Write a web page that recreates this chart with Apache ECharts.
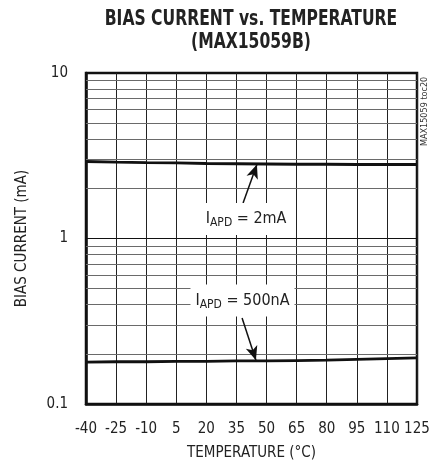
<!DOCTYPE html>
<html>
<head>
<meta charset="utf-8">
<script src="https://cdn.jsdelivr.net/npm/echarts@6/dist/echarts.min.js"></script>
<style>
html,body{margin:0;padding:0;background:#fff;}
#chart{width:440px;height:463px;}
</style>
</head>
<body>
<div id="chart"></div>
<script>
var temperatures = [-40, -25, -10, 5, 20, 35, 50, 65, 80, 95, 110, 125];
var bias2mA = [2.92, 2.89, 2.87, 2.86, 2.84, 2.83, 2.82, 2.81, 2.81, 2.80, 2.80, 2.80];
var bias500nA = [0.179, 0.180, 0.180, 0.181, 0.181, 0.182, 0.182, 0.183, 0.184, 0.186, 0.188, 0.190];
var yTickLabels = ['0.1', '1', '10'];
var minorGridValues = [0.2, 0.3, 0.4, 0.5, 0.6, 0.7, 0.8, 0.9, 2, 3, 4, 5, 6, 7, 8, 9];
// annotation anchors in data coordinates [temperature, mA]
var label2mA = {text: '= 2mA', center: [39.8, 1.31], tail: [38.3, 1.64], tip: [45.2, 2.80]};
var label500nA = {text: '= 500nA', center: [38.0, 0.422], tail: [37.8, 0.331], tip: [44.7, 0.184]};

var FONT = "'DejaVu Sans Condensed', 'Liberation Sans Narrow', sans-serif";
var chart = echarts.init(document.getElementById('chart'));

function pairs(xs, ys) { return xs.map(function (x, i) { return [x, ys[i]]; }); }

function boxPoint(lbl, w) {
  return {
    coord: lbl.center,
    symbol: 'rect',
    symbolSize: [w, 32],
    itemStyle: {color: '#fff'},
    label: {
      show: true, position: 'inside',
      formatter: '{a|I}{b|APD}{a| ' + lbl.text + '}',
      rich: {
        a: {fontFamily: FONT, fontSize: 16, color: '#222'},
        b: {fontFamily: FONT, fontSize: 12, color: '#222', padding: [8, 0, 0, 0]}
      }
    }
  };
}
function arrowLine(lbl) {
  return [{coord: lbl.tail, symbol: 'none'}, {coord: lbl.tip, symbol: 'arrow'}];
}

chart.setOption({
  animation: false,
  backgroundColor: '#fff',
  grid: {left: 86, right: 23, top: 73, bottom: 59, show: true, borderColor: '#111', borderWidth: 2.5,
    outerBoundsMode: 'none', containLabel: false},
  graphic: [
    {type: 'text', x: 251, y: 9, scaleX: 0.845, style: {text: 'BIAS CURRENT vs. TEMPERATURE', fontFamily: FONT, fontWeight: 'bold', fontSize: 20.5, fill: '#222', align: 'center'}},
    {type: 'text', x: 251, y: 32, scaleX: 0.845, style: {text: '(MAX15059B)', fontFamily: FONT, fontWeight: 'bold', fontSize: 20.5, fill: '#222', align: 'center'}},
    {type: 'text', x: 420, y: 146, rotation: Math.PI / 2, style: {text: 'MAX15059 toc20', fontFamily: FONT, fontSize: 9, fill: '#333'}}
  ],
  xAxis: {
    type: 'value', min: -40, max: 125, interval: 15,
    name: 'TEMPERATURE (°C)', nameLocation: 'middle', nameGap: 42,
    nameTextStyle: {fontFamily: FONT, fontSize: 15, color: '#222'},
    axisLine: {show: true, onZero: false, lineStyle: {color: '#111', width: 2.5}},
    axisTick: {show: false},
    axisLabel: {fontFamily: FONT, fontSize: 15, color: '#222', margin: 18},
    splitLine: {show: true, lineStyle: {color: '#222', width: 1}}
  },
  yAxis: {
    type: 'log', logBase: 10, min: 0.1, max: 10,
    name: 'BIAS CURRENT (mA)', nameLocation: 'middle', nameGap: 56,
    nameTextStyle: {fontFamily: FONT, fontSize: 15, color: '#222'},
    axisLine: {show: true, onZero: false, lineStyle: {color: '#111', width: 2.5}},
    axisTick: {show: false},
    axisLabel: {fontFamily: FONT, fontSize: 15, color: '#222', margin: 18,
      formatter: function (v) { var s = String(+v.toPrecision(3)); return yTickLabels.indexOf(s) >= 0 ? s : ''; }},
    splitLine: {show: true, lineStyle: {color: '#111', width: 1.2}}
  },
  series: [
    {
      type: 'line', data: [], z: 1,
      markLine: {silent: true, symbol: 'none', label: {show: false}, animation: false,
        lineStyle: {color: '#6a6a6a', width: 1, type: 'solid'},
        data: minorGridValues.map(function (v) { return {yAxis: v}; })}
    },
    {
      type: 'line', data: [], z: 3,
      markPoint: {silent: true, animation: false, data: [boxPoint(label2mA, 82), boxPoint(label500nA, 104)]}
    },
    {type: 'line', name: '2mA', data: pairs(temperatures, bias2mA), showSymbol: false, z: 5,
      lineStyle: {color: '#111', width: 2.8}},
    {type: 'line', name: '500nA', data: pairs(temperatures, bias500nA), showSymbol: false, z: 5,
      lineStyle: {color: '#111', width: 2.8}},
    {
      type: 'line', data: [], z: 6,
      markLine: {silent: true, animation: false, symbolSize: [9, 14], label: {show: false},
        lineStyle: {color: '#111', width: 1.5, type: 'solid'},
        data: [arrowLine(label2mA), arrowLine(label500nA)]}
    }
  ]
});
</script>
</body>
</html>
